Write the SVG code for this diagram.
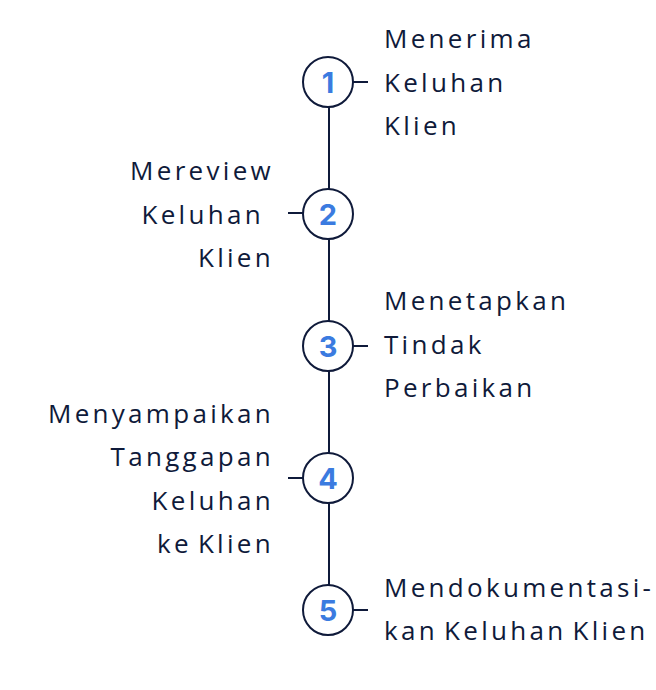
<svg xmlns="http://www.w3.org/2000/svg" width="656" height="690" viewBox="0 0 656 690">
<style>
.t{font-family:"Open Sans","Liberation Sans",sans-serif;font-size:26px;fill:#0f1a3a;letter-spacing:3.3px}
.r{text-anchor:end}
.w{word-spacing:-4px}
.n{font-family:"Inter","Liberation Sans",sans-serif;font-size:29px;font-weight:700;fill:#3b7be0;text-anchor:middle}
.c{fill:#fff;stroke:#0f1a3a;stroke-width:2}
.l{stroke:#0f1a3a;stroke-width:2;fill:none}
</style>
<rect width="656" height="690" fill="#fff"/>
<g id="connectors">
<line class="l" x1="329" y1="106" x2="329" y2="586"/>
<line class="l" x1="353" y1="82" x2="368" y2="82"/>
<line class="l" x1="288" y1="213" x2="304" y2="213"/>
<line class="l" x1="353" y1="346" x2="368" y2="346"/>
<line class="l" x1="288" y1="478" x2="304" y2="478"/>
<line class="l" x1="353" y1="610" x2="368" y2="610"/>
</g>
<g id="node1">
<circle class="c" cx="328" cy="82" r="25"/>
<text class="n" x="328" y="92.5">1</text>
<text class="t" x="384" y="48">Menerima</text>
<text class="t" x="384" y="92">Keluhan</text>
<text class="t" x="384" y="135">Klien</text>
</g>
<g id="node2">
<circle class="c" cx="328" cy="214" r="25"/>
<text class="n" x="328" y="224.5">2</text>
<text class="t r" x="274" y="180">Mereview</text>
<text class="t r" x="274" y="224" xml:space="preserve">Keluhan </text>
<text class="t r" x="274" y="267">Klien</text>
</g>
<g id="node3">
<circle class="c" cx="328" cy="346" r="25"/>
<text class="n" x="328" y="356.5">3</text>
<text class="t" x="384" y="310">Menetapkan</text>
<text class="t" x="384" y="354">Tindak</text>
<text class="t" x="384" y="397">Perbaikan</text>
</g>
<g id="node4">
<circle class="c" cx="328" cy="478" r="25"/>
<text class="n" x="328" y="488.5">4</text>
<text class="t r" x="274" y="423">Menyampaikan</text>
<text class="t r" x="274" y="466">Tanggapan</text>
<text class="t r" x="274" y="510">Keluhan</text>
<text class="t r w" x="274" y="553">ke Klien</text>
</g>
<g id="node5">
<circle class="c" cx="328" cy="610" r="25"/>
<text class="n" x="328" y="620.5">5</text>
<text class="t" x="384" y="597">Mendokumentasi-</text>
<text class="t w" x="384" y="640">kan Keluhan Klien</text>
</g>
</svg>
